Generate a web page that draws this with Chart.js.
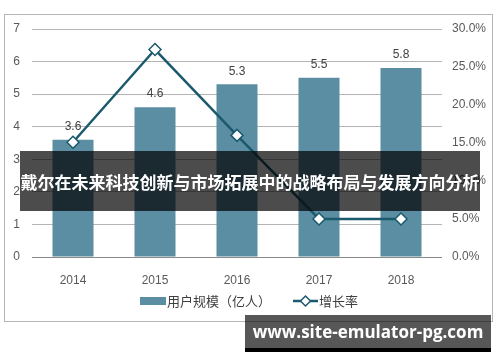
<!DOCTYPE html>
<html lang="zh">
<head>
<meta charset="utf-8">
<title>用户规模与增长率</title>
<script src="https://cdn.jsdelivr.net/npm/chart.js@4/dist/chart.umd.min.js"></script>
<style>
  html, body { margin: 0; padding: 0; background: #fff; }
  #wadah { position: relative; width: 500px; height: 362px; overflow: hidden; }
  #bingkai { position: absolute; left: 4px; top: 14px; width: 487px; height: 306px; border: 1px solid #b5b5b5; }
  #grafik { position: absolute; left: 0; top: 0; }
  #judul {
    position: absolute; left: 20px; top: 151px; width: 460px; height: 60px;
    background: rgba(0, 0, 0, 0.7); color: #fff;
    font: bold 17px "Noto Sans CJK SC", sans-serif; line-height: 62px;
    text-align: center; white-space: nowrap;
  }
  #situs {
    position: absolute; left: 245px; top: 315px; width: 246px; height: 33px;
    background: rgba(0, 0, 0, 0.66); border-bottom: 4px solid #000; color: #fff;
    font: bold 17px "Open Sans", sans-serif; line-height: 33px;
    text-align: center; white-space: nowrap;
  }
</style>
</head>
<body>
<div id="wadah">
  <div id="bingkai"></div>
  <canvas id="grafik" width="500" height="362"></canvas>
  <div id="judul">戴尔在未来科技创新与市场拓展中的战略布局与发展方向分析</div>
  <div id="situs">www.site-emulator-pg.com</div>
</div>
<script>
// Data dari gambar
const tahun = ['2014', '2015', '2016', '2017', '2018'];
const penggunaYiRen = [3.6, 4.6, 5.3, 5.5, 5.8];   // 用户规模（亿人）
const lajuTumbuh = [15.1, 27.3, 16.0, 5.0, 5.0];   // 增长率 (%)
const namaSeri = ['用户规模（亿人）', '增长率'];

const warnaBatang = '#5b8ea2';
const warnaGaris = '#1b5a6d';
const warnaTeks = '#595959';

// Label angka di atas batang
const labelBatang = {
  id: 'labelBatang',
  afterDatasetsDraw(chart) {
    const ctx = chart.ctx;
    const meta = chart.getDatasetMeta(0);
    ctx.save();
    ctx.font = '12px "Liberation Sans", Arial, sans-serif';
    ctx.fillStyle = '#404040';
    ctx.textAlign = 'center';
    ctx.textBaseline = 'middle';
    meta.data.forEach((bar, i) => {
      ctx.fillText(penggunaYiRen[i].toFixed(1), bar.x, bar.y - 13);
    });
    ctx.restore();
  }
};

// Legenda bawah (kotak batang + garis dengan belah ketupat)
const legendaBawah = {
  id: 'legendaBawah',
  afterDraw(chart) {
    const ctx = chart.ctx;
    const y = 301;
    ctx.save();
    ctx.fillStyle = warnaBatang;
    ctx.fillRect(140, 297, 26, 8);
    ctx.font = '13px "Noto Sans CJK SC", sans-serif';
    ctx.fillStyle = '#404040';
    ctx.textBaseline = 'middle';
    ctx.fillText(namaSeri[0], 167, y);

    ctx.strokeStyle = warnaGaris;
    ctx.lineWidth = 2.5;
    ctx.beginPath();
    ctx.moveTo(293, y);
    ctx.lineTo(318, y);
    ctx.stroke();
    ctx.fillStyle = '#fff';
    ctx.lineWidth = 1.5;
    ctx.beginPath();
    ctx.moveTo(305.5 - 5, y);
    ctx.lineTo(305.5, y - 5);
    ctx.lineTo(305.5 + 5, y);
    ctx.lineTo(305.5, y + 5);
    ctx.closePath();
    ctx.fill();
    ctx.stroke();
    ctx.fillStyle = '#404040';
    ctx.fillText(namaSeri[1], 319, y);
    ctx.restore();
  }
};

function gambarGrafik() {
  const ctx = document.getElementById('grafik').getContext('2d');
  const hurufSumbu = { family: '"Liberation Sans", Arial, sans-serif', size: 12 };

  new Chart(ctx, {
    type: 'bar',
    data: {
      labels: tahun,
      datasets: [
        {
          type: 'bar',
          label: namaSeri[0],
          data: penggunaYiRen,
          backgroundColor: warnaBatang,
          barPercentage: 0.5,
          categoryPercentage: 1.0,
          yAxisID: 'y',
          order: 2
        },
        {
          type: 'line',
          label: namaSeri[1],
          data: lajuTumbuh,
          borderColor: warnaGaris,
          borderWidth: 2.5,
          tension: 0,
          pointStyle: 'rectRot',
          pointRadius: 6,
          pointBackgroundColor: '#fff',
          pointBorderColor: warnaGaris,
          pointBorderWidth: 1.5,
          yAxisID: 'y1',
          order: 1
        }
      ]
    },
    options: {
      responsive: false,
      animation: false,
      layout: { padding: { top: 29, left: 0, right: 0, bottom: 0 } },
      plugins: {
        legend: { display: false },
        tooltip: { enabled: false }
      },
      scales: {
        x: {
          grid: { display: false },
          border: { display: false },
          ticks: { color: warnaTeks, font: hurufSumbu, padding: 8 },
          afterFit(scale) { scale.height = 105; }
        },
        y: {
          position: 'left',
          min: 0,
          max: 7,
          ticks: { stepSize: 1, color: warnaTeks, font: hurufSumbu, padding: 12 },
          grid: {
            drawTicks: false,
            color: c => (c.tick.value === 0 ? '#8a8a8a' : '#b4b4b4')
          },
          border: { display: false },
          afterFit(scale) { scale.width = 32; }
        },
        y1: {
          position: 'right',
          min: 0,
          max: 30,
          ticks: {
            stepSize: 5,
            color: warnaTeks,
            font: hurufSumbu,
            padding: 10,
            callback: v => v.toFixed(1) + '%'
          },
          grid: { display: false, drawTicks: false },
          border: { display: false },
          afterFit(scale) { scale.width = 58; }
        }
      }
    },
    plugins: [labelBatang, legendaBawah]
  });
}

document.addEventListener('DOMContentLoaded', () => {
  gambarGrafik();
});
</script>
</body>
</html>
